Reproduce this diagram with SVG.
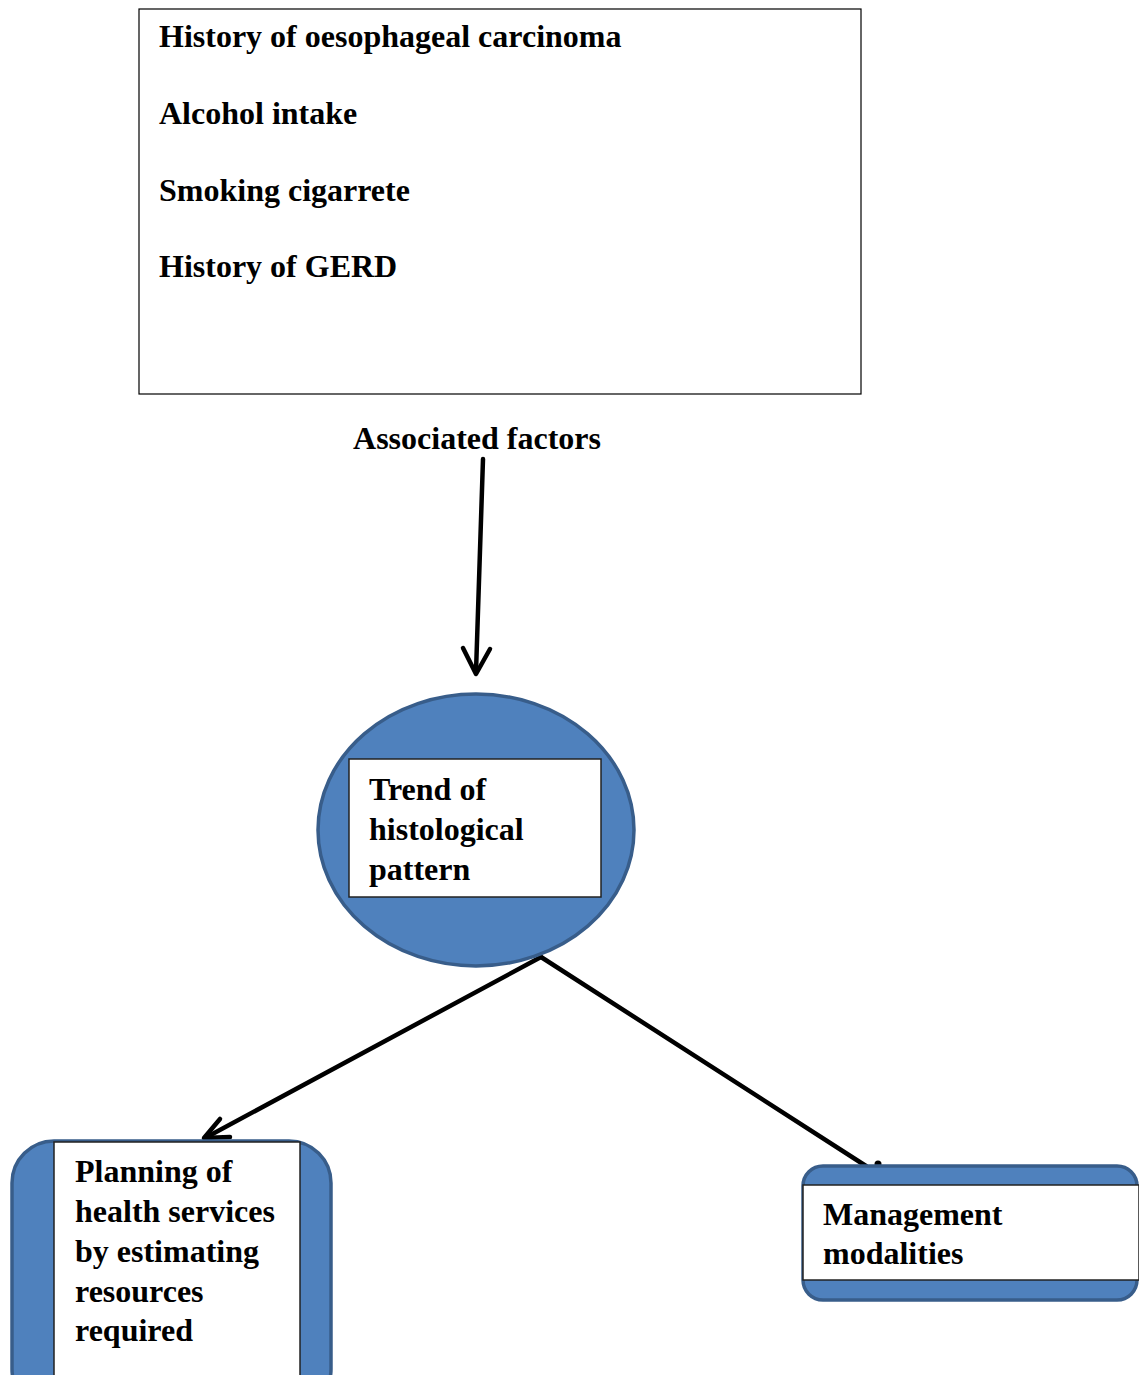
<svg xmlns="http://www.w3.org/2000/svg" width="1139" height="1375" viewBox="0 0 1139 1375">
<style>
.t{font-family:"Liberation Serif","Times New Roman",serif;font-weight:bold;font-size:32px;fill:#000}
.blue{fill:#4F81BD;stroke:#385D8A;stroke-width:3.5}
.inner{fill:#fff;stroke:#222;stroke-width:1.5}
.con{stroke:#000;stroke-width:4.5;fill:none;stroke-linecap:round;stroke-linejoin:round}
</style>
<rect width="1139" height="1375" fill="#fff"/>
<g id="factors">
<rect x="139" y="9" width="722" height="385" fill="#fff" stroke="#000" stroke-width="1.2"/>
<text class="t" x="159" y="47">History of oesophageal carcinoma</text>
<text class="t" x="159" y="124">Alcohol intake</text>
<text class="t" x="159" y="201">Smoking cigarrete</text>
<text class="t" x="159" y="277">History of GERD</text>
</g>
<g id="label-associated">
<text class="t" x="477" y="449" text-anchor="middle">Associated factors</text>
</g>
<g id="connectors">
<path class="con" d="M483 459 L476 672" stroke-width="6.5"/>
<path class="con" d="M463 648 L476 674 L490 649" stroke-width="7"/>
<path class="con" d="M541 957 L205 1138"/>
<path class="con" d="M220 1119 L204 1138 L230 1137" stroke-width="6"/>
<path class="con" d="M541 957 L866 1166"/>
<circle cx="878" cy="1164" r="3.5" fill="#000"/>
</g>
<g id="trend">
<ellipse class="blue" cx="476" cy="830" rx="158" ry="136"/>
<rect class="inner" x="349" y="759" width="252" height="138"/>
<text class="t" x="369" y="800">Trend of</text>
<text class="t" x="369" y="840">histological</text>
<text class="t" x="369" y="880">pattern</text>
</g>
<g id="planning">
<rect class="blue" x="12" y="1141" width="319" height="270" rx="42"/>
<rect class="inner" x="54" y="1142" width="246" height="250"/>
<text class="t" x="75" y="1182">Planning of</text>
<text class="t" x="75" y="1222">health services</text>
<text class="t" x="75" y="1262">by estimating</text>
<text class="t" x="75" y="1302">resources</text>
<text class="t" x="75" y="1341">required</text>
</g>
<g id="management">
<rect class="blue" x="803" y="1166" width="334" height="134" rx="20"/>
<rect class="inner" x="803" y="1185" width="336" height="95"/>
<text class="t" x="823" y="1225">Management</text>
<text class="t" x="823" y="1264">modalities</text>
</g>
</svg>
